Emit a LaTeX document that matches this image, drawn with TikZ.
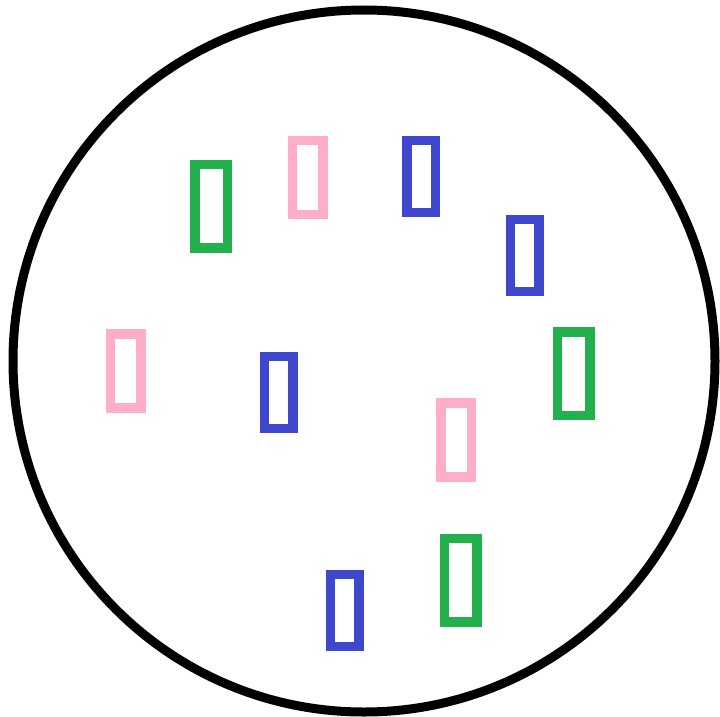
\documentclass[tikz,border=0pt]{standalone}
\usetikzlibrary{calc}

\definecolor{slabgreen}{HTML}{22B14C}
\definecolor{slabpink}{HTML}{FFAEC9}
\definecolor{slabblue}{HTML}{3F48CC}

\begin{document}
\begin{tikzpicture}[x=1pt, y=-1pt, slab/.style={line width=9.5pt}]
  % a slab outline of colour #1, #2 wide and #3 high, centred at (#4,#5)
  \newcommand{\slab}[5]{%
    \draw[slab, #1] (#4-#2/2,#5-#3/2) rectangle (#4+#2/2,#5+#3/2);
  }
  \useasboundingbox (0,0) rectangle (720,717);
  % ------------------------------------------------------------------ the dish
  \draw[line width=9pt] (364,361) circle[radius=351];
  % ------------------------------------------------------------------ green slabs
  \slab{slabgreen}{32.5}{83.5}{211.25}{206.25}
  \slab{slabgreen}{32.5}{83.5}{573.75}{373.75}
  \slab{slabgreen}{32.5}{83.5}{460.75}{580.25}
  % ------------------------------------------------------------------ pink slabs
  \slab{slabpink}{30.5}{74}{307.75}{177.5}
  \slab{slabpink}{30.5}{74}{125.75}{370.75}
  \slab{slabpink}{30.5}{74}{456.25}{440}
  % ------------------------------------------------------------------ blue slabs
  \slab{slabblue}{28.5}{72}{421.25}{176.5}
  \slab{slabblue}{28.5}{72}{524.5}{255.5}
  \slab{slabblue}{28.5}{72}{278.5}{392.5}
  \slab{slabblue}{28.5}{72}{344.5}{610.25}
\end{tikzpicture}
\end{document}
